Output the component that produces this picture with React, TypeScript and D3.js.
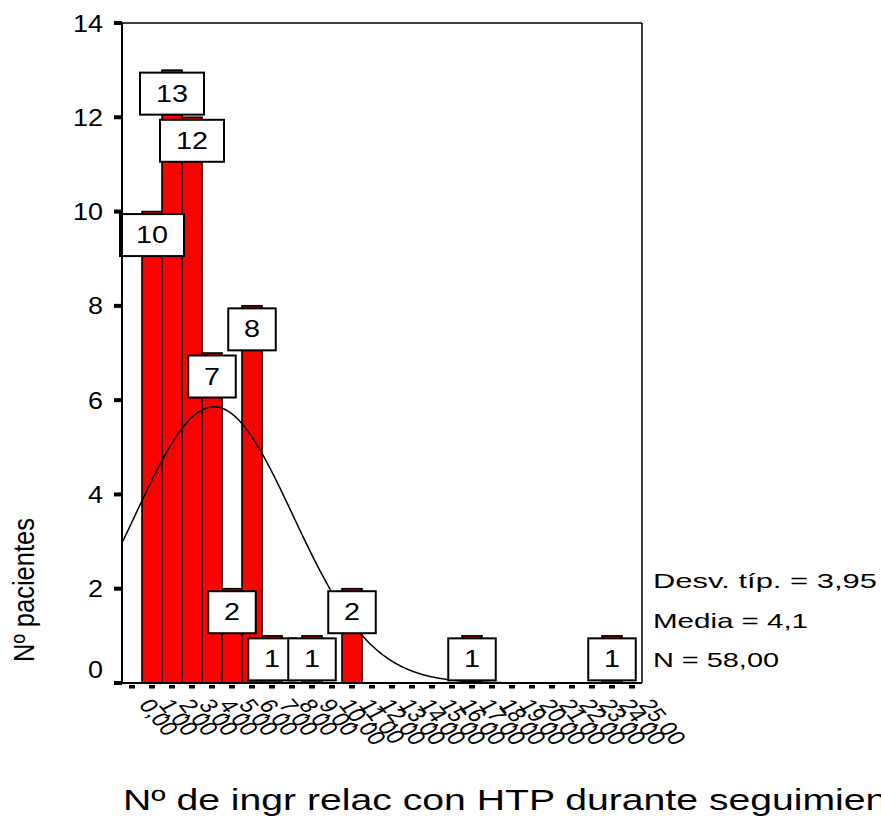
import * as d3 from 'd3';
import React, { useRef, useEffect } from 'react';

// bins of the histogram (one per value 0..25)
const xLabels = [
  '0,00', '1,00', '2,00', '3,00', '4,00', '5,00', '6,00', '7,00', '8,00',
  '9,00', '10,00', '11,00', '12,00', '13,00', '14,00', '15,00', '16,00',
  '17,00', '18,00', '19,00', '20,00', '21,00', '22,00', '23,00', '24,00', '25,00',
];
const counts = [0, 10, 13, 12, 7, 2, 8, 1, 0, 1, 0, 2, 0, 0, 0, 0, 0, 1, 0, 0, 0, 0, 0, 0, 1, 0];
const yTicks = [0, 2, 4, 6, 8, 10, 12, 14];

const statLines = ['Desv. típ. = 3,95', 'Media = 4,1', 'N = 58,00'];
const statMean = 4.1;
const statSd = 3.95;
const statN = 58;

const xTitle = 'Nº de ingr relac con HTP durante seguimiento';
const yTitle = 'Nº pacientes';

function App() {
  const svgRef = useRef<SVGSVGElement>(null);

  useEffect(() => {
    const font = 'Arial, "Liberation Sans", sans-serif';
    const left = 122, right = 642, top = 23, bottom = 683;

    const svg = d3.select(svgRef.current);
    svg.selectAll('*').remove();

    const x = d3.scaleBand<string>().domain(xLabels).range([left, right]).padding(0);
    const bw = x.bandwidth();
    // continuous value -> band center
    const xv = d3.scaleLinear().domain([-0.5, xLabels.length - 0.5]).range([left, right]);
    const y = d3.scaleLinear().domain([0, 14]).range([bottom, top]);

    // frame top / right
    svg.append('line').attr('x1', left).attr('x2', right).attr('y1', top).attr('y2', top)
      .attr('stroke', '#000').attr('stroke-width', 1.5);
    svg.append('line').attr('x1', right).attr('x2', right).attr('y1', top).attr('y2', bottom)
      .attr('stroke', '#000').attr('stroke-width', 1.5);

    const binData = xLabels.map((l, i) => ({ label: l, count: counts[i] })).filter((d) => d.count > 0);

    // bars
    svg.append('g')
      .selectAll('rect')
      .data(binData)
      .join('rect')
      .attr('x', (d) => x(d.label)!)
      .attr('width', bw)
      .attr('y', (d) => y(d.count))
      .attr('height', (d) => y(0) - y(d.count))
      .attr('fill', '#ff0000')
      .attr('stroke', '#000')
      .attr('stroke-width', 1.6);

    // normal curve
    svg.append('clipPath').attr('id', 'plotclip')
      .append('rect').attr('x', left).attr('y', top).attr('width', right - left).attr('height', bottom - top);
    const peak = statN / (statSd * Math.sqrt(2 * Math.PI));
    const curvePts = d3.range(-0.5, xLabels.length - 0.5 + 0.001, 0.05);
    svg.append('path')
      .datum(curvePts)
      .attr('clip-path', 'url(#plotclip)')
      .attr('fill', 'none')
      .attr('stroke', '#000')
      .attr('stroke-width', 1.5)
      .attr('d', d3.line<number>()
        .x((v) => xv(v))
        .y((v) => y(peak * Math.exp(-0.5 * ((v - statMean) / statSd) ** 2))));

    // value boxes
    const boxes = svg.append('g')
      .selectAll('g')
      .data(binData)
      .join('g')
      .attr('transform', (d) => `translate(${x(d.label)! + bw / 2},${y(d.count) + 2.5})`);
    boxes.append('rect')
      .attr('x', (d) => -(31 + 16.5 * String(d.count).length) / 2)
      .attr('width', (d) => 31 + 16.5 * String(d.count).length)
      .attr('y', 0)
      .attr('height', 42)
      .attr('fill', '#fff')
      .attr('stroke', '#000')
      .attr('stroke-width', 2);
    boxes.append('text')
      .attr('x', 0)
      .attr('y', 29)
      .attr('text-anchor', 'middle')
      .attr('font-family', font)
      .attr('font-size', 24)
      .attr('textLength', (d) => 16 * String(d.count).length)
      .attr('lengthAdjust', 'spacingAndGlyphs')
      .text((d) => String(d.count));

    // x axis line and dotted ticks
    svg.append('line').attr('x1', left).attr('x2', right).attr('y1', bottom).attr('y2', bottom)
      .attr('stroke', '#000').attr('stroke-width', 2);
    svg.append('g')
      .selectAll('rect')
      .data(xLabels)
      .join('rect')
      .attr('x', (d) => x(d)! + bw / 2 - 3)
      .attr('y', bottom + 2)
      .attr('width', 6)
      .attr('height', 3.5)
      .attr('fill', '#000');
    svg.append('g')
      .selectAll('text')
      .data(xLabels)
      .join('text')
      .attr('transform', (d) => `translate(${x(d)! + bw / 2 + 6},705) scale(1.25,1) rotate(56)`)
      .attr('font-family', font)
      .attr('font-size', 20)
      .text((d) => d);

    // y axis
    svg.append('line').attr('x1', left).attr('x2', left).attr('y1', top).attr('y2', bottom + 1)
      .attr('stroke', '#000').attr('stroke-width', 2);
    svg.append('g')
      .selectAll('rect')
      .data(yTicks)
      .join('rect')
      .attr('x', left - 8)
      .attr('y', (d) => y(d) - 2)
      .attr('width', 8)
      .attr('height', 4)
      .attr('fill', '#000');
    svg.append('g')
      .selectAll('text')
      .data(yTicks)
      .join('text')
      .attr('x', 103)
      .attr('y', (d) => (d === 0 ? y(d) - 5 : y(d) + 8.5))
      .attr('text-anchor', 'end')
      .attr('font-family', font)
      .attr('font-size', 23)
      .attr('textLength', (d) => 15 * String(d).length)
      .attr('lengthAdjust', 'spacingAndGlyphs')
      .text((d) => String(d));

    // stats at the right
    const statWidths = [224, 155, 126];
    svg.append('g')
      .selectAll('text')
      .data(statLines)
      .join('text')
      .attr('x', 653)
      .attr('y', (d, i) => 588 + i * 39.5)
      .attr('font-family', font)
      .attr('font-size', 21)
      .attr('textLength', (d, i) => statWidths[i])
      .attr('lengthAdjust', 'spacingAndGlyphs')
      .text((d) => d);

    // titles
    svg.append('text')
      .attr('x', 123)
      .attr('y', 810)
      .attr('font-family', font)
      .attr('font-size', 29)
      .attr('textLength', 797)
      .attr('lengthAdjust', 'spacingAndGlyphs')
      .text(xTitle);
    svg.append('text')
      .attr('transform', 'translate(34,590) rotate(-90)')
      .attr('text-anchor', 'middle')
      .attr('font-family', font)
      .attr('font-size', 29)
      .attr('textLength', 144)
      .attr('lengthAdjust', 'spacingAndGlyphs')
      .text(yTitle);
  }, []);

  return (
    <svg
      ref={svgRef}
      width={881}
      height={816}
      style={{ position: 'absolute', left: 0, top: 0, background: '#fff' }}
    ></svg>
  );
}

export default App;
